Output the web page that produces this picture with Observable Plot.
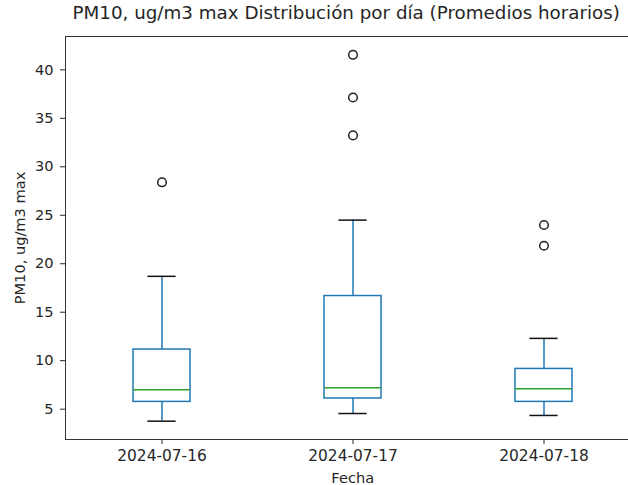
<!DOCTYPE html>
<html>
<head>
<meta charset="utf-8">
<script src="https://cdn.jsdelivr.net/npm/d3@7"></script>
<script src="https://cdn.jsdelivr.net/npm/@observablehq/plot@0.6"></script>
<style>
  html, body { margin: 0; padding: 0; background: #fff; overflow: hidden; }
  #chart { width: 628px; height: 485px; overflow: hidden; }
  #chart svg { max-width: none !important; width: 640px !important; height: 485px !important; font-family: "DejaVu Sans", sans-serif; }
</style>
</head>
<body>
<div id="chart"></div>
<script>
const dates = ["2024-07-16", "2024-07-17", "2024-07-18"];
const whiskerLow = [3.76, 4.55, 4.35];
const q1 = [5.75, 6.1, 5.75];
const median = [7.0, 7.2, 7.1];
const q3 = [11.15, 16.67, 9.15];
const whiskerHigh = [18.7, 24.5, 12.3];
const outlierDates = ["2024-07-16", "2024-07-17", "2024-07-17", "2024-07-17", "2024-07-18", "2024-07-18"];
const outlierValues = [28.4, 41.55, 37.15, 33.24, 24.0, 21.85];
const yTicks = [5, 10, 15, 20, 25, 30, 35, 40];
const title = "PM10, ug/m3 max Distribución por día (Promedios horarios)";
const yLabel = "PM10, ug/m3 max";
const xLabel = "Fecha";

const boxes = dates.map((d, i) => ({
  date: d, lo: whiskerLow[i], q1: q1[i], med: median[i], q3: q3[i], hi: whiskerHigh[i]
}));
const fliers = outlierDates.map((d, i) => ({date: d, value: outlierValues[i]}));

const blue = "#1f77b4";
const green = "#2ca02c";
const ink = "#262626";

const chart = Plot.plot({
  width: 640,
  height: 485,
  marginLeft: 65,
  marginRight: 0.5,
  marginTop: 36,
  marginBottom: 46,
  style: {fontFamily: "DejaVu Sans, sans-serif", fontSize: "14px", color: ink, background: "#fff", overflow: "visible"},
  x: {type: "band", domain: dates, paddingInner: 0.7, paddingOuter: 0.35, align: 0.5, label: null},
  y: {domain: [1.87, 43.44], label: null},
  marks: [
    Plot.frame({stroke: "#333", strokeWidth: 1}),
    Plot.ruleX(boxes, {x: "date", y1: "lo", y2: "q1", stroke: blue, strokeWidth: 1.5}),
    Plot.ruleX(boxes, {x: "date", y1: "q3", y2: "hi", stroke: blue, strokeWidth: 1.5}),
    Plot.barY(boxes, {x: "date", y1: "q1", y2: "q3", fill: "none", stroke: blue, strokeWidth: 1.5}),
    Plot.tickY(boxes, {x: "date", y: "med", stroke: green, strokeWidth: 1.5}),
    Plot.tickY(boxes, {x: "date", y: "lo", stroke: "#111", strokeWidth: 1.5, insetLeft: 14.4, insetRight: 14.4}),
    Plot.tickY(boxes, {x: "date", y: "hi", stroke: "#111", strokeWidth: 1.5, insetLeft: 14.4, insetRight: 14.4}),
    Plot.dot(fliers, {x: "date", y: "value", r: 4.3, stroke: "#222", strokeWidth: 1.5, fill: "none"}),
    Plot.axisY({ticks: yTicks, tickSize: 5, tickPadding: 7, tickFormat: d => String(d), stroke: ink, fill: ink, fontSize: 14.6, label: null}),
    Plot.axisX({tickSize: 5, tickPadding: 6, stroke: ink, fill: ink, fontSize: 15.4, label: null}),
    Plot.text([title], {frameAnchor: "top-left", dx: 7, dy: -23, lineAnchor: "middle", fontSize: 18.3, fill: ink, textAnchor: "start"}),
    Plot.text([xLabel], {frameAnchor: "bottom", dy: 39, lineAnchor: "middle", fontSize: 14.6, fill: ink, textAnchor: "middle"}),
    Plot.text([yLabel], {frameAnchor: "left", dx: -45, lineAnchor: "middle", textAnchor: "middle", rotate: -90, fontSize: 14.6, fill: ink})
  ]
});
document.getElementById("chart").appendChild(chart);
</script>
</body>
</html>
